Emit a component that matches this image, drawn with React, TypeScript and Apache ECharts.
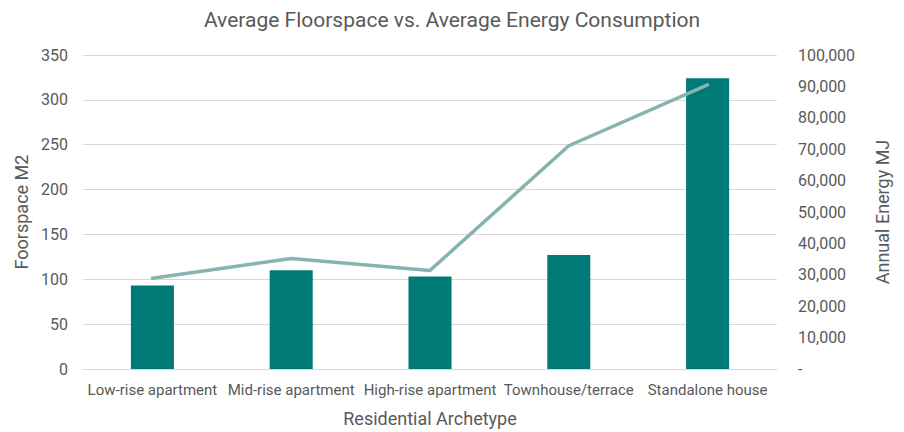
import React, { useEffect, useRef } from "react";
import * as echarts from "echarts";

const categories = [
  "Low-rise apartment",
  "Mid-rise apartment",
  "High-rise apartment",
  "Townhouse/terrace",
  "Standalone house",
];
const floorspace = [93, 110, 103, 127, 324];
const energy = [28900, 35200, 31400, 71100, 90500];

const FONT = "Roboto, 'Open Sans', sans-serif";
const GREY = "#595959";

export default function App() {
  const ref = useRef<HTMLDivElement>(null);
  useEffect(() => {
    if (!ref.current) return;
    const chart = echarts.init(ref.current, undefined, { renderer: "svg" });
    chart.setOption({
      animation: false,
      textStyle: { fontFamily: FONT },
      title: {
        text: "Average Floorspace vs. Average Energy Consumption",
        left: "center",
        top: 4,
        textStyle: { fontFamily: FONT, fontSize: 21, fontWeight: "normal", color: GREY },
      },
      grid: { left: 83, right: 127, top: 55, bottom: 62, containLabel: false },
      xAxis: {
        type: "category",
        data: categories,
        name: "Residential Archetype",
        nameLocation: "middle",
        nameGap: 40,
        nameTextStyle: { fontFamily: FONT, fontSize: 18, color: GREY },
        axisLine: { show: true, lineStyle: { color: "#D9D9D9" } },
        axisTick: { show: false },
        axisLabel: { interval: 0, fontFamily: FONT, fontSize: 15, color: GREY, margin: 13 },
      },
      yAxis: [
        {
          type: "value",
          min: 0,
          max: 350,
          interval: 50,
          name: "Foorspace M2",
          nameLocation: "middle",
          nameGap: 51,
          nameTextStyle: { fontFamily: FONT, fontSize: 18, color: GREY },
          axisLine: { show: false },
          axisTick: { show: false },
          axisLabel: { fontFamily: FONT, fontSize: 16, color: GREY, margin: 15 },
          splitLine: { lineStyle: { color: "#D9D9D9", width: 1 } },
        },
        {
          type: "value",
          min: 0,
          max: 100000,
          interval: 10000,
          name: "Annual Energy MJ",
          nameLocation: "middle",
          nameGap: 96,
          nameRotate: 90,
          nameTextStyle: { fontFamily: FONT, fontSize: 18, color: GREY },
          axisLine: { show: false },
          axisTick: { show: false },
          splitLine: { show: false },
          axisLabel: {
            fontFamily: FONT,
            fontSize: 16,
            color: GREY,
            margin: 21,
            align: "left",
            formatter: (v: number) => (v === 0 ? "-" : v.toLocaleString("en-US")),
          },
        },
      ],
      series: [
        {
          type: "bar",
          name: "Floorspace",
          data: floorspace,
          yAxisIndex: 0,
          barWidth: "31%",
          itemStyle: { color: "#007A76" },
        },
        {
          type: "line",
          name: "Energy",
          data: energy,
          yAxisIndex: 1,
          symbol: "none",
          lineStyle: { color: "#86B4B0", width: 3.5, cap: "round", join: "round" },
          itemStyle: { color: "#86B4B0" },
        },
      ],
    });
    return () => chart.dispose();
  }, []);
  return <div ref={ref} style={{ width: 904, height: 432, position: "absolute", left: 0, top: 0 }} />;
}
